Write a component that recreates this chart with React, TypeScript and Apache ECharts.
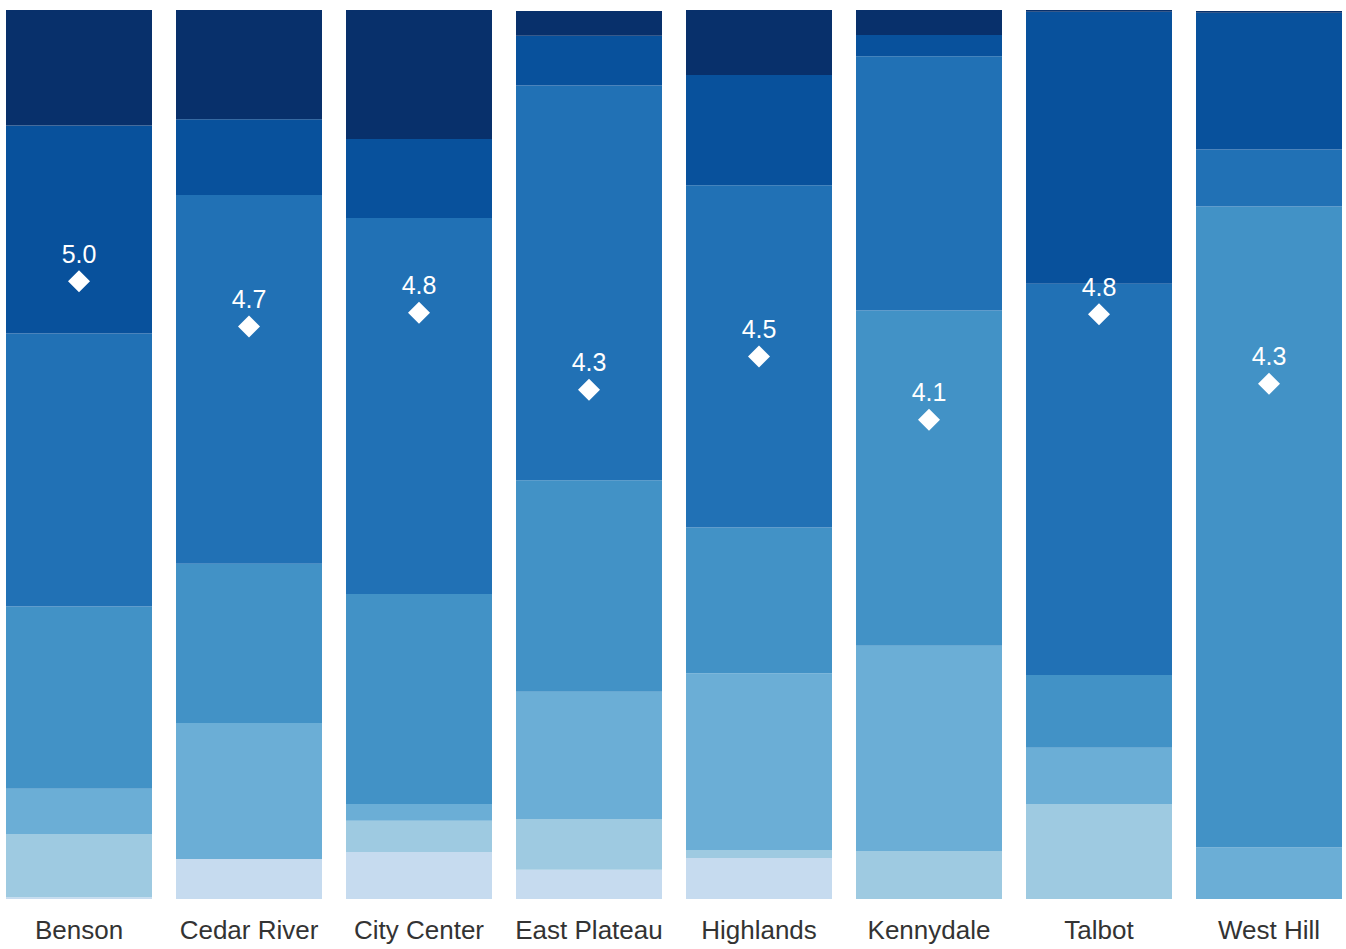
import React, { useEffect, useRef } from "react";
import * as echarts from "echarts";

// Neighbourhoods along the x axis
const categories = [
  "Benson",
  "Cedar River",
  "City Center",
  "East Plateau",
  "Highlands",
  "Kennydale",
  "Talbot",
  "West Hill",
];

// Share of responses (%) per rating level, lowest level first (stacked bottom → top)
const level1 = [0.2, 4.5, 5.3, 3.3, 4.6, 0, 0, 0];
const level2 = [7.1, 0, 3.5, 5.7, 0.9, 5.4, 10.7, 0];
const level3 = [5.1, 15.3, 1.9, 14.3, 19.9, 23.1, 6.3, 5.8];
const level4 = [20.5, 17.9, 23.6, 23.8, 16.4, 37.7, 8.2, 72.1];
const level5 = [30.7, 41.5, 42.3, 44.4, 38.5, 28.6, 44.0, 6.4];
const level6 = [23.4, 8.5, 8.9, 5.6, 12.4, 2.4, 30.6, 15.4];
const level7 = [13.0, 12.3, 14.5, 2.8, 7.3, 2.8, 0.2, 0.2];

// Average score per neighbourhood
const averages = [5.0, 4.7, 4.79, 4.28, 4.5, 4.08, 4.78, 4.32];

const levels = [level1, level2, level3, level4, level5, level6, level7];
const levelColors = [
  "#c6dbef",
  "#9ecae1",
  "#6baed6",
  "#4292c6",
  "#2171b5",
  "#08519c",
  "#08306b",
];

const FONT = "Liberation Sans, Arial, sans-serif";

export default function App() {
  const ref = useRef<HTMLDivElement>(null);

  useEffect(() => {
    if (!ref.current) return;
    const chart = echarts.init(ref.current, undefined, { renderer: "svg" });

    const barSeries = levels.map((data, i) => ({
      name: `Level ${i + 1}`,
      type: "bar",
      stack: "share",
      data,
      barWidth: 146,
      itemStyle: { color: levelColors[i] },
      emphasis: { disabled: true },
    }));

    chart.setOption({
      animation: false,
      grid: { left: 0, right: 0, top: 10, bottom: 50 },
      xAxis: {
        type: "category",
        data: categories,
        axisLine: { show: false },
        axisTick: { show: false },
        axisLabel: {
          color: "#333333",
          fontSize: 26,
          fontFamily: FONT,
          margin: 18,
          interval: 0,
        },
      },
      yAxis: [
        { type: "value", min: 0, max: 100, show: false },
        { type: "value", min: 0.9, max: 6.8, show: false },
      ],
      series: [
        ...barSeries,
        {
          name: "Average",
          type: "scatter",
          yAxisIndex: 1,
          data: averages,
          symbol: "diamond",
          symbolSize: 22,
          itemStyle: { color: "#ffffff", opacity: 1 },
          label: {
            show: true,
            position: "top",
            distance: 4,
            color: "#ffffff",
            fontSize: 25,
            fontFamily: FONT,
            formatter: (p: any) => Number(p.value).toFixed(1),
          },
          emphasis: { disabled: true },
          z: 5,
        },
      ],
    });

    return () => chart.dispose();
  }, []);

  return (
    <div
      style={{
        position: "fixed",
        left: 0,
        top: 0,
        width: 1346,
        height: 949,
        overflow: "hidden",
        background: "#ffffff",
      }}
    >
      <div
        ref={ref}
        style={{ position: "absolute", left: -6, top: 0, width: 1360, height: 949 }}
      />
    </div>
  );
}
